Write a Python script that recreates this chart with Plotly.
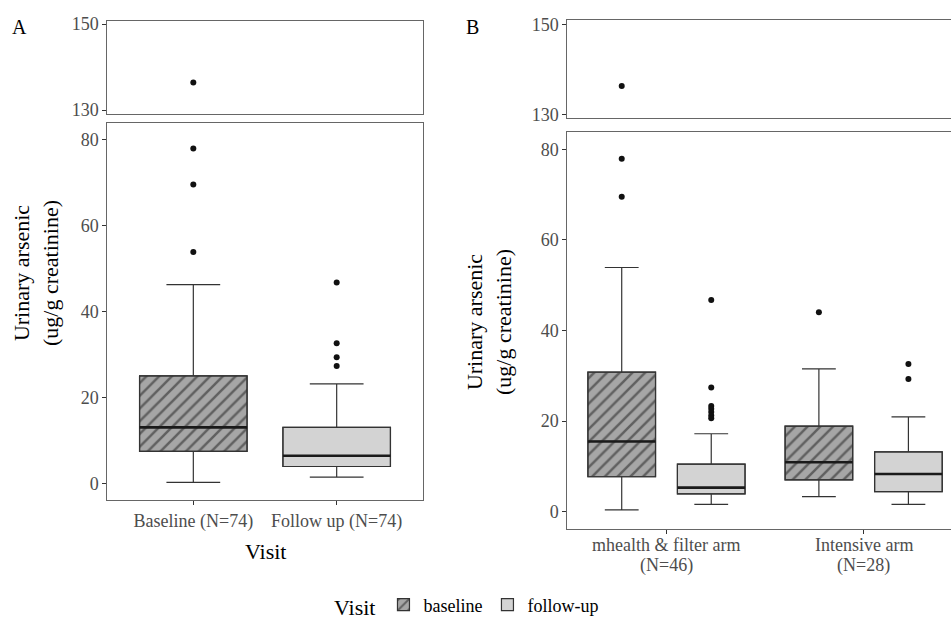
import plotly.graph_objects as go

# ---------------- data ----------------
# Panel A (all participants)
A_categories = ["Baseline (N=74)", "Follow up (N=74)"]
A_pos = [1, 2]
A_lower = [0.2, 1.4]
A_q1 = [7.4, 3.9]
A_median = [13.0, 6.4]
A_q3 = [25.0, 13.0]
A_upper = [46.2, 23.1]
A_base_out = [136.4, 77.9, 69.5, 53.8]
A_fu_out = [46.7, 32.6, 29.3, 27.3]

# Panel B (by arm)
B_groups = ["mhealth & filter arm", "Intensive arm"]
B_group_n = ["(N=46)", "(N=28)"]
B_pos = [1, 2]
B_base_lower = [0.4, 3.3]
B_base_q1 = [7.7, 7.0]
B_base_median = [15.5, 10.9]
B_base_q3 = [30.8, 18.9]
B_base_upper = [53.9, 31.5]
B_fu_lower = [1.6, 1.6]
B_fu_q1 = [3.9, 4.4]
B_fu_median = [5.3, 8.3]
B_fu_q3 = [10.5, 13.2]
B_fu_upper = [17.2, 20.9]
B_base_out = [[136.4, 77.9, 69.5], [44.0]]
B_fu_out = [[46.7, 27.4, 23.3, 22.7, 22.0, 21.2, 20.6], [32.6, 29.3]]

visit_names = ["baseline", "follow-up"]

# ---------------- style ----------------
FONT = "Liberation Serif, Times New Roman, serif"
BASE_FILL = "#a6a6a6"
FU_FILL = "#d3d3d3"
OUTLINE = "#333333"
BORDER = "#666666"
TICKCOL = "#4d4d4d"
W, H = 951, 624

fig = go.Figure()


def add_box(xc, width, lo, q1, med, q3, hi, outliers, fill, hatched, xa, ya, xa_top, ya_top,
            name=None, showlegend=False):
    pattern = dict(shape="/", fgcolor="#1a1a1a", bgcolor=fill, size=9, solidity=0.28) if hatched else dict(shape="")
    fig.add_trace(go.Bar(
        x=[xc], y=[q3 - q1], base=[q1], width=width,
        marker=dict(color=fill, pattern=pattern, line=dict(color=OUTLINE, width=1.2)),
        name=name, showlegend=showlegend, legendgroup=name,
        xaxis=xa, yaxis=ya, hoverinfo="skip"))
    fig.add_trace(go.Box(
        x=[xc], q1=[q1], median=[med], q3=[q3], lowerfence=[lo], upperfence=[hi],
        width=width, fillcolor="rgba(0,0,0,0)", line=dict(color=OUTLINE, width=1.2),
        boxpoints=False, showlegend=False, xaxis=xa, yaxis=ya, hoverinfo="skip"))
    fig.add_trace(go.Scatter(
        x=[xc - width / 2, xc + width / 2], y=[med, med], mode="lines",
        line=dict(color="#1a1a1a", width=2.6), showlegend=False,
        xaxis=xa, yaxis=ya, hoverinfo="skip"))
    for xx, yy in ((xa, ya), (xa_top, ya_top)):
        fig.add_trace(go.Scatter(
            x=[xc] * len(outliers), y=outliers, mode="markers",
            marker=dict(color="#111111", size=6), showlegend=False,
            xaxis=xx, yaxis=yy, hoverinfo="skip"))


# Panel A
a_fills = [BASE_FILL, FU_FILL]
a_outs = [A_base_out, A_fu_out]
for i in range(2):
    add_box(A_pos[i], 0.75, A_lower[i], A_q1[i], A_median[i], A_q3[i], A_upper[i], a_outs[i],
            a_fills[i], i == 0, "x", "y", "x2", "y2", name=visit_names[i], showlegend=True)

# Panel B
off, bw = 0.227, 0.343
for g in range(2):
    add_box(B_pos[g] - off, bw, B_base_lower[g], B_base_q1[g], B_base_median[g], B_base_q3[g],
            B_base_upper[g], B_base_out[g], BASE_FILL, True, "x3", "y3", "x4", "y4")
    add_box(B_pos[g] + off, bw, B_fu_lower[g], B_fu_q1[g], B_fu_median[g], B_fu_q3[g],
            B_fu_upper[g], B_fu_out[g], FU_FILL, False, "x3", "y3", "x4", "y4")


def px_x(p):
    return p / W


def px_y(p):
    return 1 - p / H


axis_common = dict(showline=True, mirror=True, linecolor=BORDER, linewidth=1,
                   showgrid=False, zeroline=False, ticks="outside", ticklen=4,
                   tickcolor=OUTLINE, automargin=False,
                   tickfont=dict(family=FONT, size=18, color=TICKCOL))
axis_nomirror = {**axis_common, "mirror": False}

xa_dom = [px_x(107.3), px_x(422.7)]
xb_dom = [px_x(567.3), 1.0]

fig.update_layout(
    width=W, height=H, margin=dict(l=0, r=0, t=0, b=0, autoexpand=False),
    paper_bgcolor="white", plot_bgcolor="white",
    barmode="overlay", boxmode="overlay",
    font=dict(family=FONT, color="black"),
    xaxis=dict(domain=xa_dom, range=[0.4, 2.6], anchor="y", tickvals=A_pos,
               ticktext=A_categories, **axis_common),
    yaxis=dict(domain=[px_y(500), px_y(122.7)], range=[-3.9, 83.9], anchor="x",
               tickvals=[0, 20, 40, 60, 80], **axis_common),
    xaxis2=dict(domain=xa_dom, range=[0.4, 2.6], anchor="y2", showticklabels=False,
                **{**axis_common, "ticks": ""}),
    yaxis2=dict(domain=[px_y(114.3), px_y(20.7)], range=[129.0, 150.8], anchor="x2",
                tickvals=[130, 150], **axis_common),
    xaxis3=dict(domain=xb_dom, range=[0.497, 2.443], anchor="y3", tickvals=B_pos,
                showticklabels=False, **axis_common),
    yaxis3=dict(domain=[px_y(529.3), px_y(132.3)], range=[-3.9, 83.75], anchor="x3",
                tickvals=[0, 20, 40, 60, 80], **axis_nomirror),
    xaxis4=dict(domain=xb_dom, range=[0.497, 2.443], anchor="y4", showticklabels=False,
                **{**axis_common, "ticks": ""}),
    yaxis4=dict(domain=[px_y(118.3), px_y(20)], range=[129.27, 150.95], anchor="x4",
                tickvals=[130, 150], **axis_nomirror),
    legend=dict(orientation="h", x=px_x(468), xanchor="center", y=px_y(606), yanchor="middle",
                title=dict(text="Visit", font=dict(family=FONT, size=22, color="black")),
                font=dict(family=FONT, size=18, color="black"), bgcolor="rgba(0,0,0,0)"),
)


def note(text, x, y, size, color="black", xref="paper", angle=0):
    return dict(text=text, x=x, y=y, xref=xref, yref="paper", xanchor="center",
                yanchor="middle", textangle=angle, showarrow=False,
                font=dict(family=FONT, size=size, color=color))


ann = [
    note("A", px_x(19), px_y(27), 20),
    note("B", px_x(472), px_y(27), 20),
    note("Visit", px_x(265), px_y(551), 22),
    note("Urinary arsenic<br>(ug/g creatinine)", px_x(36), px_y(273), 22, angle=-90),
    note("Urinary arsenic<br>(ug/g creatinine)", px_x(489), px_y(322), 22, angle=-90),
]
for g in range(2):
    ann.append(note(B_groups[g], B_pos[g], px_y(545), 18, TICKCOL, xref="x3"))
    ann.append(note(B_group_n[g], B_pos[g], px_y(565), 18, TICKCOL, xref="x3"))
fig.update_layout(annotations=ann)

# remove the browser's default page margin so the 951x624 figure fills the window exactly
fig.write_html("out.html", config={"displayModeBar": False},
               post_script="document.body.style.margin='0px';document.body.style.overflow='hidden';")
